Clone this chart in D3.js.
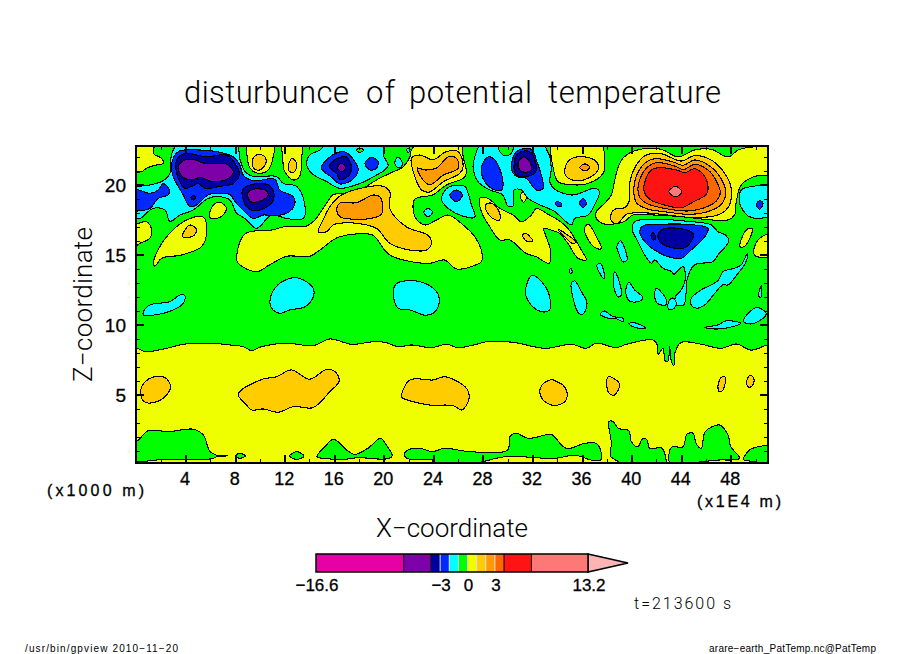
<!DOCTYPE html>
<html>
<head>
<meta charset="utf-8">
<title>disturbunce of potential temperature</title>
<script src="https://cdn.jsdelivr.net/npm/d3@7"></script>
<style>
html, body { margin: 0; padding: 0; background: #fff; }
svg { display: block; }
text { font-family: "Liberation Sans", sans-serif; fill: #000; }
.thin { font-family: Roboto, "Liberation Sans", sans-serif; font-weight: 300; }
</style>
</head>
<body>
<div id="chart"></div>
<script>
// colour bar levels and the colour between each pair
var levels = [-16.6, -7, -4, -3, -2, -1, 0, 1, 2, 3, 4, 7, 13.2];
var bandColors = ["#e600a8", "#7d00a8", "#0000a0", "#0028ff", "#00ffff", "#00ff00", "#f0ff00", "#ffcc00", "#ff9a00", "#ff6600", "#ff1414", "#ff7878"];
var overColor = "#ffb4b4";
var barLabels = [-16.6, -3, 0, 3, 13.2];
var barBlackLines = [-7, -4, 4, 7];
var barPaleLines = [-3, -2, -1, 0, 1, 2, 3];

var xMajor = [4, 8, 12, 16, 20, 24, 28, 32, 36, 40, 44, 48];
var xMinor = [2, 6, 10, 14, 18, 22, 26, 30, 34, 38, 42, 46, 50];
var zMajor = [5, 10, 15, 20];
var zMinor = [1, 2, 3, 4, 6, 7, 8, 9, 11, 12, 13, 14, 16, 17, 18, 19, 21, 22];

// contours as [x (1E4 m), z (1000 m)]
var yellowAreas = [
  // everything under z = 8.5
  [[-1,8.38],[0,8.38],[.73,8.1],[2.47,8.33],[3.82,8.62],[6,8.7],[7.6,8.57],[8.66,8.45],[9.33,8.17],[10.13,8.45],[12.15,8.7],[14.3,8.52],[15.65,9],[17.4,8.62],[19.14,8.8],[20.08,8.76],[21.15,8.45],[22.23,8.57],[23.84,8.38],[25.05,8.62],[26,8.38],[27.47,8.62],[28.28,8.8],[30.43,8.76],[33,8.33],[35.13,8.62],[36.34,8.33],[37.15,8.7],[38.76,8.38],[39.57,8.62],[41.72,8.93],[42.07,8.57],[42.12,7.9],[42.53,8.33],[42.7,7.43],[42.93,7.43],[43.06,8.45],[43.2,7.43],[43.4,7.07],[43.52,8.1],[44,8.76],[45.62,8.62],[47.23,8.33],[48.44,8.64],[49.65,8.2],[51,8.57],[52,8.5],[52,-1],[-1,-1]],
  [[-1,20.9],[0,20.9],[.46,20.95],[.86,21.2],[1.53,21.4],[2.2,21.55],[2.07,21.9],[1.4,22.25],[1.5,22.9],[1.5,24],[-1,24]],
  [[9.06,23.2],[8.97,22],[9.2,21.2],[9.86,20.83],[10.67,21.07],[11.07,22],[11.13,23.2]],
  [[11.9,23.2],[11.85,21.8],[12,20.95],[12.7,20.35],[13.2,20.6],[13.36,21.8],[13.3,23.2]],
  [[8.12,14.9],[8.8,16.5],[11.08,16.8],[11.9,17],[13.76,17.07],[14.44,17.5],[15.38,18.7],[15.9,19.3],[17.26,19.4],[18.33,19.76],[19.4,20.35],[20.48,20.83],[21.56,21.3],[22.1,22],[22.23,22.5],[23.04,23.2],[26.13,23.2],[26.4,22],[26.66,20.83],[26.4,20.47],[25.05,20],[23.98,19.3],[22.5,18.97],[22.5,17.73],[23.3,17.14],[24.25,17.5],[25.2,17.85],[26.4,17.14],[27.34,16.3],[27.95,15],[27.87,14.52],[27.47,14.3],[25.86,14],[24.9,14.64],[23.7,14.4],[21.56,14.64],[20.48,15],[19.95,15.47],[19.14,16.4],[17.8,16.5],[16.45,16.3],[15.9,16.07],[14.84,15.35],[14,14.9],[12.15,14.9],[10.8,14.3],[9.73,13.8],[8.25,14.4]],
  [[27.74,19.04],[28.4,19.04],[29.35,18.33],[30.43,17.85],[31.1,17.37],[31.9,17.85],[32.3,18.33],[33.25,17.9],[34.06,17.5],[34.85,16.9],[35.94,15.35],[36.34,14.64],[35.67,14.76],[34.87,15.8],[34.2,16.54],[33.65,16.73],[32.9,16.9],[33.1,16.3],[33.44,15.35],[33.33,14.4],[32.3,14.87],[31.5,15.1],[30.16,16.07],[29.35,16.07],[28.55,17],[27.87,18.1]],
  [[31,19.16],[31.24,19.5],[31.5,19.16],[31.3,18.76]],
  [[33.65,23.2],[33.7,21.07],[34.06,20.23],[35.4,20],[36.48,20.1],[37.7,20.83],[37.83,21.66],[37.4,23.2]],
  [[37.15,17.6],[37.15,18.1],[37.83,18.7],[38.36,19.28],[38.63,20.35],[39.03,21.54],[39.57,22.14],[41.05,22.6],[42.4,22.54],[43.74,22],[45.08,22.5],[46.43,22.54],[47.77,22],[48.6,22.5],[49.65,22.7],[52,22.7],[52,20.9],[49.9,20.6],[48.84,20],[48.44,18.8],[48.3,17.85],[47.77,17.5],[46.43,17.5],[44,17.73],[41.85,17.85],[40.1,17.85],[39.43,17.4],[38.9,17.26],[37.83,17.2]],
  [[48.74,15.6],[49.25,16.78],[49.7,16.9],[49.65,16.43],[49.1,15.6]],
  [[49.9,15],[50.2,16.07],[52,16.7],[52,15]],
  [[36.2,16.9],[36.5,17.2],[37.15,16.3],[37.55,15.47],[37.15,15.47],[36.5,16.07]],
  [[-1,17],[0,17.2],[.86,17.38],[1.26,16.78],[1.13,16.2],[.32,15.83],[0,15.64],[-1,15.64]],
  [[1.4,14.3],[1.53,14.88],[2.6,16.43],[4.09,17.5],[5.43,17.7],[5.7,16.66],[5.3,15.6],[3.68,15],[2.07,14.76],[1.53,14.2]],
  [[5.9,17.74],[6.24,18.57],[6.77,18.76],[7.3,18.33],[6.9,17.74],[6.1,17.6]]
];

var greenAreas = [
  [[-1,1.67],[0,1.67],[1,2.45],[2.6,2.38],[4.62,2.55],[5.43,2.14],[5.97,.95],[6.56,.64],[5.97,.43],[2.2,.4],[1.13,.3],[0,.2],[-1,.2]],
  [[6.56,.64],[7.4,.66],[6.56,.6]],
  [[8,.64],[8.37,.83],[8.84,.64],[8.37,.48]],
  [[12.4,.64],[12.96,.95],[13.57,.64],[12.96,.4]],
  [[14.6,.6],[15.24,1.3],[15.9,1.83],[16.45,1.55],[17,1.07],[17.66,.76],[18.73,1.2],[19.73,1.9],[20.2,1.43],[20.67,.64],[20.2,.43],[17.93,.52],[16.45,.36],[15.65,.43]],
  [[21.64,.71],[21.96,1.07],[22.9,1.19],[23.92,.95],[24.9,1.19],[26.93,.95],[30,1.07],[30.16,2.02],[30.7,2.26],[31.64,1.9],[33.5,2.19],[33.79,2],[34.73,1.18],[36.2,1.54],[37.15,1.54],[37.55,.83],[37.5,.35],[36.75,.35],[35.4,.7],[33.79,.47],[29.9,.6],[28,.24],[27.5,.15],[24,.15],[23.9,.36],[22,.43]],
  [[38.17,3.1],[38.5,3.1],[38.9,2.62],[39.76,2.45],[39.97,1.66],[40.5,1.3],[40.9,1.9],[41.24,1.78],[41.45,1.18],[42.4,1.23],[42.66,.83],[42.7,0],[39.57,0],[38.63,.4],[38.28,.64],[38.36,1.54]],
  [[43.2,1.26],[44.14,1.3],[44.46,2.2],[44.95,2.26],[45.2,1.54],[45.62,1.18],[45.94,2.38],[47.1,2.85],[47.77,2.14],[48,1.3],[48.7,.47],[47,.35],[45.62,.23],[43.15,0]],
  [[49,.4],[49.52,1.07],[49.9,1.23],[50.9,1.42],[52,1.6],[52,0],[49.9,.23],[49.38,.3]]
];

var goldAreas = [
  [[9.4,21.8],[9.86,22.2],[10.4,22],[10.48,21.54],[10,21.07],[9.5,21.2]],
  [[12.3,21.4],[12.6,21.9],[12.96,21.54],[12.8,20.95],[12.4,20.95]],
  [[14.7,16.66],[15.1,17.5],[15.65,18.45],[16.45,19.2],[17.8,19.69],[19.95,19.9],[20.48,19.5],[20.48,18.3],[21.83,17],[23.57,16.4],[23.84,15.83],[23.44,15.35],[22.1,15.35],[20.48,15.83],[19.4,16.9],[17.8,17.26],[16.45,17.26],[15.9,17.14],[15.38,16.66]],
  [[22.23,21.9],[22.9,22.14],[23.98,21.8],[25.05,22.38],[26,22.38],[26.4,21.3],[26.13,20.83],[24.8,20.23],[23.7,19.5],[23.04,19.64],[22.5,20.6]],
  [[28.2,18.57],[28.7,18.7],[29.3,18.1],[29.35,17.5],[28.8,17.6],[28.3,18.1]],
  [[31.18,16.4],[31.45,16.54],[32,16],[31.5,16]],
  [[34.06,16.83],[34.87,16.4],[35.46,15.95],[35.27,15.8],[34.6,16.3]],
  [[34.6,21.07],[35,21.8],[36.2,22],[37.15,21.66],[37.28,21.07],[36.48,20.47],[35.54,20.3],[34.73,20.6]],
  [[38.3,17.78],[38.63,18.26],[39.44,18.38],[39.8,18.85],[39.84,20.16],[40.25,21.23],[41.05,22.07],[42.26,22.26],[44,21.7],[45.08,22.1],[46.56,21.7],[47.64,20.64],[48.04,19.7],[47.85,18.5],[47.1,17.9],[45.22,17.66],[43.07,17.83],[41.2,18],[39.57,17.9],[38.9,17.26],[38.44,17.35]],
  [[3.74,16.3],[4.35,17.14],[4.9,16.78],[4.6,16.35]],
  [[.38,5],[.46,5.6],[1.26,6.24],[2.34,6.24],[2.8,5.6],[2.47,5],[1.67,4.52],[.73,4.48]],
  [[8.25,5],[8.52,5.36],[10.27,6.14],[11.34,6.3],[12.55,6.79],[14,6.12],[15.38,6.83],[16.05,6.67],[16.4,6],[15.65,5.24],[14.3,4.1],[12.7,4.17],[11.48,3.76],[10.27,4],[9.33,3.93],[8.8,4.4]],
  [[21.42,4.88],[22.1,6.07],[24,6.07],[24.92,6.3],[26.66,5.48],[26.88,4.76],[26.3,3.93],[25.6,4.24],[23.57,4.29],[21.56,4.76]],
  [[32.58,5.24],[32.9,5.83],[33.6,6.1],[33.79,6.02],[34.46,5.7],[34.8,5.1],[34.6,4.52],[33.79,4.23],[33.5,4.29],[32.85,4.64]],
  [[38,5.6],[38.1,6.3],[38.9,5.95],[39.03,5.7],[38.63,5],[38.2,5.1]],
  [[46.96,5.6],[47.23,6.26],[47.55,6.26],[47.36,5.35],[47.1,5.23]],
  [[49.25,5.83],[49.52,6.38],[49.8,6.26],[49.84,5.83],[49.52,5.54]]
];

var orangeAreas = [
  [[16.45,18.7],[17.8,18.73],[19.14,19.28],[19.73,19.1],[19.8,17.9],[18.87,17.6],[17.26,17.57],[16.45,17.73],[16.2,18.2]],
  [[22.7,21.2],[23.3,21.07],[24.25,21.2],[25.2,22],[25.86,21.9],[26,21.2],[24.8,20.7],[23.7,20],[23.17,20.35]],
  [[35.8,21.25],[36.25,21.5],[36.62,21.25],[36.25,21]],
  [[40.17,19.7],[40.38,20.64],[41.05,21.54],[41.86,21.88],[43.34,21.64],[44.14,21.4],[45.08,21.78],[46.3,21.35],[47.24,20.4],[47.6,19.45],[47.24,18.62],[46.3,18.14],[44.68,17.9],[42.8,18.07],[41.2,18.3],[40.38,18.73]]
];

var darkOrangeAreas = [
  [[40.5,19.7],[40.7,20.5],[41.3,21.3],[42,21.6],[43.47,21.35],[44.2,21.1],[45.08,21.47],[46.16,21.07],[46.83,20.28],[47.15,19.45],[46.83,18.85],[45.9,18.38],[44.55,18.14],[42.8,18.3],[41.2,18.68],[40.65,19.1]]
];

var redAreas = [
  [[41,19.56],[41.13,20.4],[41.6,21.07],[42.13,21.23],[43.6,21.07],[44.28,20.88],[45.08,21.16],[45.76,20.76],[46.16,19.92],[46.03,19.33],[44.95,18.78],[44,18.37],[42.53,18.6],[41.46,18.97]]
];

var salmonAreas = [
  [[43,19.52],[43.53,19.9],[44.04,19.52],[43.53,19.14]]
];

var cyanAreas = [
  [[-1,19.9],[0,19.9],[1.13,20],[2.2,20.3],[2.74,20.83],[2.8,21.8],[3,22.5],[3.7,23.2],[8,23.2],[8.4,21.8],[8.8,20.95],[9.46,20.6],[11.34,20.6],[11.9,20.1],[12.96,19.9],[13.6,18.7],[13.5,17.6],[12.15,17.6],[10.94,17.85],[9.73,16.9],[8.8,17.6],[8.1,18],[7.6,18.9],[6.77,19.16],[5.83,19.04],[4.6,18.2],[3.55,17.85],[2.74,17.4],[2.34,18.2],[1.4,18.33],[.32,17.6],[0,17.6],[-1,17.6]],
  [[15.65,23.2],[19.95,23.2],[19.95,22.14],[20.35,21.4],[20.08,21.07],[19.4,20.7],[18.06,20.1],[16.45,19.76],[15.4,20.23],[14.17,20.83],[13.76,21.54],[14.03,22.14],[14.84,22.5]],
  [[20.88,21.54],[21.15,22],[21.5,21.5],[21.23,21.2]],
  [[21.88,22.6],[22.1,22.6],[22.05,22.35],[21.9,22.35]],
  [[24.65,19.04],[25.2,19.83],[26.53,19.9],[26.8,19.4],[27.07,18.57],[27.34,17.7],[26.13,17.85],[24.9,18.57]],
  [[23.22,18.04],[23.57,18.33],[23.92,18.04],[23.57,17.73]],
  [[28,23.2],[27.34,22],[27.2,21.3],[27.6,20.23],[28.55,19.64],[29.6,19.28],[30,18.5],[30.43,18.5],[30.5,19.64],[31.1,19.64],[31.64,19.04],[32.6,18.57],[33.25,18.33],[33.79,18.1],[35.13,17.14],[35.4,17.6],[36.48,17.85],[37,18.57],[37.4,19.5],[37,19.76],[35.8,19.4],[35.13,19.28],[33.79,19.69],[33.4,20.2],[33.5,21.07],[33.4,22],[33.1,22.6],[32.85,23.2],[30.56,23.2],[30.38,22.38],[29.9,22.07],[29.35,22.38],[29.1,23.2]],
  [[40.05,16.8],[40.24,17.38],[41.85,17.54],[44.54,17.4],[46.43,17.14],[46.96,16.66],[47.63,16.38],[47.82,15.95],[46.96,15],[46.56,14.52],[45.08,14.29],[44.49,13.33],[44.4,12.38],[44.2,11.43],[43.6,11.43],[43.52,12],[44,12.5],[44.33,13.33],[44.14,14.17],[43.4,13.62],[43.25,13.8],[42.53,14.05],[41.85,14.64],[41.6,14.4],[41.05,15],[40.5,15.95]],
  [[42.93,11.2],[43.06,11.8],[43.4,11.9],[43.6,11.43],[43.2,11.07]],
  [[48.7,18.7],[48.84,19.64],[49.65,19.88],[52,19.88],[52,18.2],[50.2,17.6],[49.4,17.78],[49,18.16]],
  [[38.8,15.6],[39.1,16],[39.57,15.1],[39.62,14.64],[39.3,14.5],[38.9,15.25]],
  [[44.8,11.43],[44.8,11.9],[45.6,12.5],[46.43,12.86],[47,13.2],[47.36,13.8],[48.3,14.05],[48.84,14.29],[49.33,15.1],[49.38,15],[49.1,14.29],[48.6,13.7],[47.77,12.86],[47.36,12.86],[46.7,12.26],[45.9,11.43],[45.2,11.2]],
  [[34.95,13.88],[35.08,14.05],[35.2,13.76],[35.05,13.7]],
  [[37.2,14.29],[37.5,14.36],[37.8,13.57],[37.77,13.29],[37.28,13.93]],
  [[38.5,13.33],[38.63,13.8],[39.03,13],[39.17,12.14],[38.9,12],[38.58,12.62]],
  [[39.52,12.38],[39.76,13.05],[40.24,12.5],[40.9,11.95],[40.64,11.7],[39.84,11.7]],
  [[41.85,12],[41.99,12.62],[42.8,11.8],[42.74,11.43],[42.07,11.55]],
  [[35.13,12.98],[35.4,13.14],[35.94,12.38],[36.4,11.55],[36.07,10.76],[35.73,10.83],[35.27,11.9]],
  [[37.47,10.76],[37.77,11],[38.5,10.6],[39.3,10.48],[39.3,10.24],[38.63,10.48],[38.1,10.48]],
  [[39.76,10.07],[40.1,10.17],[41,9.88],[41.1,9.76],[40.37,9.8]],
  [[45.9,9.83],[46.96,10],[47.63,10.3],[48.8,10.12],[47.77,9.8],[46.7,9.71]],
  [[49.03,10.29],[50.05,11.24],[50.86,10.83],[50.2,10.24],[49.52,10.07]],
  [[50.24,12.1],[50.46,12.8],[50.5,12.38],[50.4,11.95]],
  [[.6,10.95],[1.13,11.43],[2.74,11.67],[3.55,12.14],[3.95,12.1],[3.82,11.55],[3,11.07],[1.4,10.7],[.6,10.7]],
  [[10.8,11.67],[11.2,12.62],[12.28,13.29],[13.2,13.33],[14.3,12.62],[14.3,12],[13.63,11.3],[12.4,11.07],[11.6,10.83],[10.94,11.2]],
  [[20.75,12.38],[21.07,12.98],[22.9,13.1],[24.25,12.38],[24.46,11.55],[23.98,10.83],[23.3,10.7],[22.1,11.07],[21.15,11.2]],
  [[31.42,12.38],[31.9,13.52],[32.3,13.45],[33.25,12.38],[33.38,11.07],[32.7,10.95],[31.77,11.55]]
];

var greenIslands = [
  [[17.74,22.5],[18.06,22.6],[18.4,22.5],[18.06,22.33]]
];

var blueAreas = [
  [[3.41,22.38],[4.62,22.5],[6.5,22.38],[7.85,22],[8.39,21.4],[8.66,20.7],[9.46,20.3],[11.2,20.4],[11.6,19.64],[12.7,19.16],[12.8,18.57],[12.4,18.1],[11.34,17.8],[10.27,17.85],[9.46,17.6],[8.66,18.2],[8,18.8],[7.6,19.3],[6.77,19.4],[5.83,19.3],[4.9,18.57],[4.35,18.45],[3.8,19.3],[3,20.6],[2.88,21.54]],
  [[-1,19.7],[0,19.7],[1.13,19.4],[1.8,19.64],[2.2,20.1],[2.69,19.64],[2.6,19.3],[1.8,19.04],[1.13,18.33],[.32,18.16],[-1,18.2]],
  [[14.97,21.2],[15.65,22],[16.6,22.38],[17,22.3],[17.66,21.66],[17.93,21.07],[17.5,20.4],[16.45,20.07],[15.9,20.47]],
  [[18.47,21.54],[19,21.97],[19.54,21.66],[19.4,21.19],[18.87,21.07]],
  [[25.32,19.28],[25.86,19.64],[26.34,19.28],[25.86,18.8]],
  [[27.87,21.2],[28.4,22],[28.95,21.8],[29.6,20.35],[29.5,19.64],[28.95,19.64],[28.15,20.23]],
  [[30.3,21.2],[30.7,22.38],[31.9,22.55],[32.3,21.8],[32.85,19.76],[32.3,19.64],[31.5,20.47],[30.7,20.6]],
  [[35.8,18.7],[36.07,19.04],[36.34,18.7],[36.07,18.38]],
  [[33.9,18.8],[34.3,18.7],[34.3,18.45],[33.9,18.55]],
  [[40.65,16.66],[40.9,17.07],[42.66,17.2],[45.08,17.14],[46.16,16.9],[45.9,16.3],[44.8,15.35],[44,14.76],[42.93,14.88],[41.85,15.35],[41.05,15.95]],
  [[50.05,18.57],[50.32,18.88],[50.6,18.7],[50.32,18.26]]
];

var darkBlueAreas = [
  [[3.2,21.54],[3.41,22],[4.09,22.25],[5.7,22],[7.3,22.14],[8.1,21.4],[8.33,20.7],[7.85,20.1],[6.77,19.9],[5.56,19.76],[5.03,20.1],[4.5,19.9],[3.95,19.76],[3.55,20.2],[3.28,20.83]],
  [[4.44,19.1],[4.62,19.28],[4.81,19.1],[4.62,18.92]],
  [[8.6,19.64],[9.2,20],[10.67,20],[11.13,19.4],[10.94,18.7],[9.73,18.16],[9.06,18.33],[8.66,18.9]],
  [[15.6,21.3],[16.05,21.8],[16.6,22],[17,22],[17.4,21.2],[17.1,20.6],[16.45,20.4],[16.2,20.8]],
  [[30.5,21.3],[30.83,22.25],[31.77,22.38],[32.3,21.4],[32.18,20.83],[31.2,20.6],[30.7,20.7]],
  [[42.12,16.42],[42.4,16.78],[43.74,16.9],[44.95,16.54],[44.8,15.95],[44.14,15.47],[42.93,15.6],[42.26,15.95]],
  [[41.56,16.42],[41.77,16.6],[41.93,16.14],[41.72,16.07]]
];

var purpleAreas = [
  [[3.41,21.3],[3.82,21.73],[4.62,21.83],[5.3,21.59],[6.24,21.5],[7.3,21.5],[7.85,20.95],[7.45,20.47],[6.24,20.23],[5.16,20.54],[4.5,20.35],[3.82,20.54],[3.47,20.95]],
  [[9.06,19.5],[9.46,19.69],[10.4,19.64],[10.67,19.3],[10.27,18.93],[9.33,18.78],[9.06,19.04]],
  [[16.27,21.23],[16.6,21.55],[16.93,21.23],[16.6,20.95]],
  [[30.83,21.54],[31.24,22],[31.77,21.66],[31.9,21.07],[31.37,20.9],[30.97,21.07]]
];

var width = 904, height = 654;
var svg = d3.select("#chart").append("svg").attr("width", width).attr("height", height);

var x = d3.scaleLinear().domain([0, 51]).range([136, 768]);
var z = d3.scaleLinear().domain([0.14, 22.78]).range([463, 146]);

svg.append("clipPath").attr("id", "plot").append("rect")
    .attr("x", x.range()[0]).attr("y", z.range()[1])
    .attr("width", x.range()[1] - x.range()[0]).attr("height", z.range()[0] - z.range()[1]);

var contourLine = d3.line()
    .x(function(d) { return x(d[0]); })
    .y(function(d) { return z(d[1]); })
    .curve(d3.curveCatmullRomClosed.alpha(0.5));

var field = svg.append("g").attr("clip-path", "url(#plot)");

// background band is -1..0, the rest is painted over it
field.append("rect")
    .attr("x", x.range()[0]).attr("y", z.range()[1])
    .attr("width", x.range()[1] - x.range()[0]).attr("height", z.range()[0] - z.range()[1])
    .attr("fill", bandColors[5]);

var layers = [
  [yellowAreas, 6], [greenAreas, 5], [goldAreas, 7], [orangeAreas, 8], [darkOrangeAreas, 9], [redAreas, 10], [salmonAreas, 11],
  [cyanAreas, 4], [greenIslands, 5], [blueAreas, 3], [darkBlueAreas, 2], [purpleAreas, 1]
];

layers.forEach(function(l) {
    field.append("g").selectAll("path")
        .data(l[0])
        .enter()
        .append("path")
        .attr("d", contourLine)
        .attr("fill", bandColors[l[1]])
        .attr("stroke", "#000")
        .attr("stroke-width", 1.1)
        .attr("stroke-linejoin", "round")
        .attr("shape-rendering", "crispEdges");
});

// ticks all point inwards, on the four sides
function drawAxis(axis, transform, size, values, w, labelled) {
    var g = svg.append("g").attr("transform", transform).call(
        axis.tickValues(values).tickSize(-size).tickSizeOuter(0)
            .tickFormat(labelled ? d3.format("d") : "")
    );
    g.select(".domain").remove();
    g.selectAll("line").attr("stroke", "#000").attr("stroke-width", w).attr("shape-rendering", "crispEdges");
    g.attr("font-family", null).attr("font-size", null);
    return g;
}

var bottom = z.range()[0], top_ = z.range()[1], left = x.range()[0], right = x.range()[1];

drawAxis(d3.axisBottom(x), "translate(0," + bottom + ")", 4, xMinor, 1, false);
drawAxis(d3.axisTop(x), "translate(0," + top_ + ")", 4, xMinor, 1, false);
drawAxis(d3.axisTop(x), "translate(0," + top_ + ")", 8, xMajor, 2, false);
drawAxis(d3.axisLeft(z), "translate(" + left + ",0)", 4, zMinor, 1, false);
drawAxis(d3.axisRight(z), "translate(" + right + ",0)", 4, zMinor, 1, false);
drawAxis(d3.axisRight(z), "translate(" + right + ",0)", 8, zMajor, 2, false);

drawAxis(d3.axisBottom(x).tickPadding(9), "translate(0," + bottom + ")", 8, xMajor, 2, true)
    .selectAll("text").attr("font-size", 18).attr("stroke", "#000").attr("stroke-width", 0.3).attr("dx", -1);
drawAxis(d3.axisLeft(z).tickPadding(2), "translate(" + left + ",0)", 8, zMajor, 2, true)
    .selectAll("text").attr("font-size", 19).attr("stroke", "#000").attr("stroke-width", 0.3)
    .attr("x", -10);

svg.append("rect")
    .attr("x", left).attr("y", top_).attr("width", right - left).attr("height", bottom - top_)
    .attr("fill", "none").attr("stroke", "#000").attr("stroke-width", 2).attr("shape-rendering", "crispEdges");

// texts
function addText(str, tx, ty, size, len, anchor) {
    return svg.append("text")
        .attr("x", tx).attr("y", ty)
        .attr("font-size", size)
        .attr("text-anchor", anchor || "start")
        .attr("textLength", len)
        .attr("lengthAdjust", "spacing")
        .text(str);
}

// title words sit apart, so each one gets its own span
var titleWords = [["disturbunce", 184, 165], ["of", 366, 29], ["potential", 409, 123], ["temperature", 548, 173]];
svg.append("g").selectAll("text")
    .data(titleWords)
    .enter()
    .append("text")
    .attr("class", "thin")
    .attr("x", function(d) { return d[1]; })
    .attr("y", 103)
    .attr("font-size", 31)
    .attr("textLength", function(d) { return d[2]; })
    .attr("lengthAdjust", "spacing")
    .text(function(d) { return d[0]; });

addText("X\u2212coordinate", 376, 537, 26, 152).attr("class", "thin");
addText("Z\u2212coordinate", 0, 0, 26, 155).attr("class", "thin")
    .attr("transform", "translate(92,382) rotate(-90)");
addText("(x1000 m)", 47, 496, 16, 97).attr("stroke", "#000").attr("stroke-width", 0.3);
addText("(x1E4 m)", 697, 507, 16, 84).attr("stroke", "#000").attr("stroke-width", 0.3);
addText("t=213600 s", 634, 609, 16, 97).attr("class", "thin");
addText("/usr/bin/gpview   2010\u221211\u221220", 25, 652, 10, 153);
addText("arare\u2212earth_PatTemp.nc@PatTemp", 709, 652, 10, 167);

// colour bar
var bar = d3.scaleLinear().domain([-16.6, 13.2]).range([316, 588]);
var barTop = 554, barBottom = 572;

svg.append("path")
    .attr("d", d3.line()([[bar(13.2), barTop], [628, (barTop + barBottom) / 2], [bar(13.2), barBottom]]) + "Z")
    .attr("fill", overColor).attr("stroke", "#000").attr("stroke-width", 1.5);

svg.append("g").selectAll("rect")
    .data(bandColors)
    .enter()
    .append("rect")
    .attr("x", function(d, i) { return bar(levels[i]); })
    .attr("y", barTop)
    .attr("width", function(d, i) { return bar(levels[i + 1]) - bar(levels[i]); })
    .attr("height", barBottom - barTop)
    .attr("fill", function(d) { return d; });

// only the wide bands have a black separator
[[barPaleLines, "#dde"], [barBlackLines, "#000"]].forEach(function(s) {
    svg.append("g").selectAll("line")
        .data(s[0])
        .enter()
        .append("line")
        .attr("x1", function(d) { return bar(d); })
        .attr("x2", function(d) { return bar(d); })
        .attr("y1", barTop).attr("y2", barBottom)
        .attr("stroke", s[1]).attr("stroke-width", 1);
});

svg.append("rect")
    .attr("x", bar(-16.6)).attr("y", barTop)
    .attr("width", bar(13.2) - bar(-16.6)).attr("height", barBottom - barTop)
    .attr("fill", "none").attr("stroke", "#000").attr("stroke-width", 1.5);

svg.append("g").selectAll("text")
    .data(barLabels)
    .enter()
    .append("text")
    .attr("x", function(d) { return bar(d) + 1; })
    .attr("y", 591)
    .attr("text-anchor", "middle")
    .attr("font-size", 17)
    .attr("stroke", "#000").attr("stroke-width", 0.3)
    .text(function(d) { return String(d).replace("-", "\u2212"); });
</script>
</body>
</html>
